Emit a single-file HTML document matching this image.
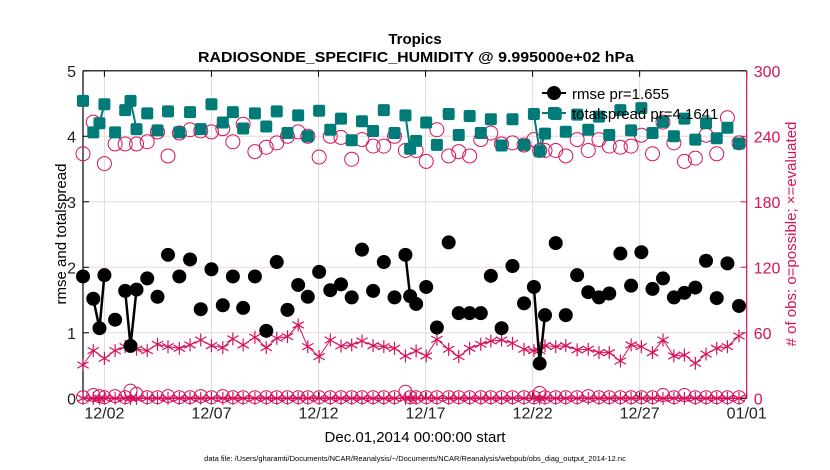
<!DOCTYPE html>
<html><head><meta charset="utf-8"><style>
body{margin:0;background:#fff;}
svg{display:block;font-family:"Liberation Sans",Arial,sans-serif;}
</style></head><body>
<svg id="chart" width="830" height="470" viewBox="0 0 830 470" xmlns="http://www.w3.org/2000/svg">
<text x="415" y="44" text-anchor="middle" font-size="15" font-weight="bold">Tropics</text>
<text x="416" y="62" text-anchor="middle" font-size="15" font-weight="bold" textLength="436" lengthAdjust="spacingAndGlyphs">RADIOSONDE_SPECIFIC_HUMIDITY @ 9.995000e+02 hPa</text>
<g id="grid"></g>
<g id="axes"></g>
<g id="marks"></g>
<g id="legend">
<line x1="542" y1="93" x2="566" y2="93" stroke="#000" stroke-width="2"/>
<circle cx="554" cy="93" r="7" fill="#000"/>
<text x="572" y="99" font-size="15">rmse pr=1.655</text>
<line x1="542" y1="113" x2="566" y2="113" stroke="#007b78" stroke-width="2"/>
<rect x="548" y="107" width="12" height="12" rx="2" fill="#007b78"/>
<text x="572" y="119" font-size="15">totalspread pr=4.1641</text>
</g>
<text x="415" y="442" text-anchor="middle" font-size="15">Dec.01,2014 00:00:00 start</text>
<text x="415" y="461" text-anchor="middle" font-size="7.5">data file: /Users/gharamti/Documents/NCAR/Reanalysis/~/Documents/NCAR/Reanalysis/webpub/obs_diag_output_2014-12.nc</text>
<text transform="translate(66,234) rotate(-90)" text-anchor="middle" font-size="15">rmse and totalspread</text>
<text transform="translate(796,234) rotate(-90)" text-anchor="middle" font-size="15" fill="#d6125c">#  of obs: o=possible; ×=evaluated</text>
</svg>
<script>
const days=[0,0.48,0.77,1.0,1.5,1.97,2.22,2.5,3.0,3.48,3.97,4.5,5.0,5.5,6.0,6.53,7.0,7.48,8.03,8.56,9.05,9.55,10.05,10.5,11.03,11.55,12.05,12.55,13.03,13.55,14.05,14.55,15.06,15.28,15.56,16.03,16.53,17.08,17.55,18.06,18.58,19.05,19.55,20.06,20.6,21.06,21.33,21.58,22.08,22.55,23.08,23.6,24.1,24.58,25.1,25.6,26.08,26.6,27.09,27.6,28.09,28.6,29.1,29.6,30.1,30.64];
const rmse=[1.86,1.52,1.07,1.88,1.2,1.64,0.8,1.66,1.83,1.55,2.19,1.86,2.12,1.36,1.97,1.42,1.86,1.38,1.86,1.03,2.08,1.35,1.73,1.55,1.93,1.65,1.74,1.54,2.27,1.64,2.08,1.54,2.19,1.56,1.44,1.70,1.08,2.38,1.30,1.30,1.30,1.87,1.07,2.02,1.45,1.70,0.53,1.27,2.37,1.27,1.88,1.62,1.54,1.60,2.21,1.72,2.23,1.67,1.83,1.54,1.61,1.69,2.10,1.53,2.06,1.41];
const spread=[4.54,4.06,4.2,4.49,4.06,4.40,4.54,4.11,4.35,4.09,4.38,4.06,4.37,4.11,4.49,4.21,4.37,4.12,4.35,4.15,4.38,4.05,4.32,4.0,4.39,4.10,4.27,3.94,4.23,4.08,4.40,4.05,4.32,3.81,3.93,4.21,3.87,4.34,4.02,4.31,4.05,4.26,3.86,4.26,3.87,4.34,3.77,4.04,4.34,4.07,4.33,4.10,4.30,4.02,4.40,4.09,4.43,4.05,4.22,4.0,4.27,3.95,4.20,3.97,4.13,3.89];
const possible=[224,253,null,215,233,233,null,233,235,244,222,243,246,245,244,247,235,251,226,230,234,240,244,240,221,240,239,219,237,231,231,240,227,null,227,217,246,222,226,222,237,243,233,234,232,237,227,227,227,222,237,227,237,231,230,231,241,224,253,234,217,220,241,224,257,234];
const evaluated=[30.5,43.7,null,36.6,43.7,47.3,null,45,43.7,49.5,47.3,45.8,48.9,53.4,48.2,46.4,54.4,48.9,55.9,46.4,55,56.5,67.2,47.3,38.2,53.4,47.9,48.9,52.5,48.2,47.3,45.8,38.8,null,43.4,38.8,54,44.9,38.2,45.8,49.5,52.5,53.4,50.4,44.9,43.7,43.7,48.2,47.3,48.2,44.3,44.9,41.8,41.8,34.2,48.9,47.3,41.8,53.4,38.8,39.7,32.1,40.6,45.8,47.3,57.1];
const possibleLevel2=[1,3,2,1,2,1,7,4,1,1,2,1,1,2,1,2,1,1,1,1,1,1,1,1,1,1,1,1,1,1,1,1,6,1,1,1,1,1,1,1,1,1,1,1,1,1,5,1,1,1,1,2,1,1,1,1,1,1,3,1,3,1,1,1,1,1];
const evaluatedLevel2=days.map(()=>0);
const leftTicks=[0,1,2,3,4,5];
const rightTicks=[0,60,120,180,240,300];
const dateTicks=[1,6,11,16,21,26,31];
const dateLabels=["12/02","12/07","12/12","12/17","12/22","12/27","01/01"];

const X0=83,X1=746.7,Y0=398.3,Y1=70.8;
const xs=d=>X0+(X1-X0)*d/31;
const yl=v=>Y0-(Y0-Y1)*v/5;
const yr=v=>Y0-(Y0-Y1)*v/300;
const NS="http://www.w3.org/2000/svg";
const PINK="#d6125c",TEAL="#007b78";
function mk(tag,parent,attrs){const e=document.createElementNS(NS,tag);for(const k in attrs)e.setAttribute(k,attrs[k]);parent.appendChild(e);return e;}
const grid=document.getElementById('grid'),axes=document.getElementById('axes'),marks=document.getElementById('marks');
leftTicks.forEach((t,i)=>{
  const g=mk('line',grid,{x1:X0,x2:X1,y1:yl(t),y2:yl(t),stroke:'#f0d3dd','stroke-width':1});
  
  
  mk('line',axes,{x1:X0,x2:X0+6,y1:yl(t),y2:yl(t),stroke:'#000'});
  const tl=mk('text',axes,{x:X0-7,y:yl(t)+6,'text-anchor':'end','font-size':16,fill:'#222'});
  tl.textContent=t;
  
  
});
rightTicks.forEach(t=>{
  mk('line',axes,{x1:X1-6,x2:X1,y1:yr(t),y2:yr(t),stroke:PINK});
  const tl=mk('text',axes,{x:X1+7,y:yr(t)+6,'font-size':16,fill:PINK});
  tl.textContent=t;
  
  
});
dateTicks.forEach((d,i)=>{
  const g=mk('line',grid,{x1:xs(d),x2:xs(d),y1:Y1,y2:Y0,stroke:'#dcdcdc'});
  
  
  mk('line',axes,{x1:xs(d),x2:xs(d),y1:Y0,y2:Y0-6,stroke:'#000'});
  mk('line',axes,{x1:xs(d),x2:xs(d),y1:Y1,y2:Y1+6,stroke:'#000'});
  const tl=mk('text',axes,{x:xs(d),y:Y0+20,'text-anchor':'middle','font-size':16,fill:'#222'});
  tl.textContent=dateLabels[i];
  
  
});
mk('line',axes,{x1:X0,x2:X0,y1:Y1,y2:Y0,stroke:'#000','stroke-width':1.2});
mk('line',axes,{x1:X0,x2:X1,y1:Y0,y2:Y0,stroke:'#000','stroke-width':1.2});
mk('line',axes,{x1:X0,x2:X1,y1:Y1,y2:Y1,stroke:'#000','stroke-width':1.2});
mk('line',axes,{x1:X1,x2:X1,y1:Y1,y2:Y0,stroke:PINK,'stroke-width':1.2});

function segs(vals,yf,color,w){
  for(let i=1;i<days.length;i++){
    if(vals[i]==null||vals[i-1]==null)continue;
    if(days[i]-days[i-1]>0.4)continue;
    mk('line',marks,{x1:xs(days[i-1]),y1:yf(vals[i-1]),x2:xs(days[i]),y2:yf(vals[i]),stroke:color,'stroke-width':w});
  }
}
function polyAll(vals,yf,color,w){
  let pts=[];
  days.forEach((d,i)=>{if(vals[i]!=null)pts.push(xs(d)+','+yf(vals[i]));});
  mk('polyline',marks,{points:pts.join(' '),fill:'none',stroke:color,'stroke-width':w});
}
function star(x,y,name){
  const g=mk('g',marks,{stroke:PINK,'stroke-width':1.2});
  
  
  const r=6.5;
  mk('line',g,{x1:x,y1:y-r,x2:x,y2:y+r});
  mk('line',g,{x1:x-r*0.87,y1:y-r/2,x2:x+r*0.87,y2:y+r/2});
  mk('line',g,{x1:x-r*0.87,y1:y+r/2,x2:x+r*0.87,y2:y-r/2});
}
polyAll(evaluatedLevel2,yr,PINK,1.5);
days.forEach((d,i)=>{
  const c=mk('circle',marks,{cx:xs(d),cy:yr(possibleLevel2[i]),r:6.5,fill:'none',stroke:PINK,'stroke-width':1});
  
  
  star(xs(d),yr(evaluatedLevel2[i]),'evaluated-low-point');
});
polyAll(evaluated,yr,PINK,1);
days.forEach((d,i)=>{if(evaluated[i]!=null)star(xs(d),yr(evaluated[i]),'evaluated-point');});
days.forEach((d,i)=>{if(possible[i]==null)return;
  const c=mk('circle',marks,{cx:xs(d),cy:yr(possible[i]),r:7,fill:'none',stroke:PINK,'stroke-width':1});
  
  
});
segs(spread,yl,TEAL,2);
days.forEach((d,i)=>{
  const r=mk('rect',marks,{x:xs(d)-6,y:yl(spread[i])-6,width:12,height:12,rx:2,fill:TEAL});
  
  
});
segs(rmse,yl,'#000',2.5);
days.forEach((d,i)=>{
  const c=mk('circle',marks,{cx:xs(d),cy:yl(rmse[i]),r:7,fill:'#000'});
  
  
});
</script>
</body></html>
